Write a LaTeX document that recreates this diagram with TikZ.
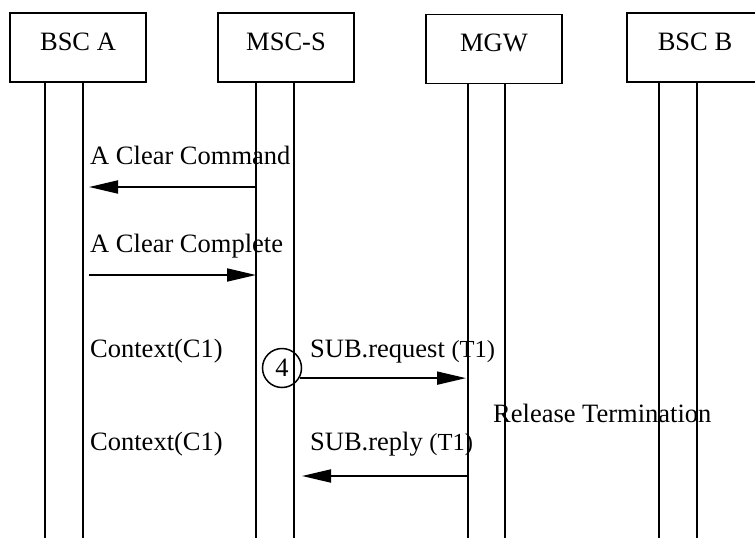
\documentclass[tikz,border=0pt]{standalone}
\usepackage{fontspec}
\setmainfont{Liberation Serif}
\usetikzlibrary{arrows.meta,calc}
\newcommand{\smallt}[1]{{\fontsize{24.5}{28}\selectfont #1}}
\begin{document}
\begin{tikzpicture}[x=1pt,y=-1pt,
  every node/.style={font=\fontsize{26.5}{30}\selectfont},
  ent/.style={draw, line width=1.9pt, minimum width=136pt, minimum height=69pt,
    text height=18pt, text depth=13pt, inner sep=0pt},
  life/.style={line width=1.9pt},
  msg/.style={line width=1.9pt, -{Triangle[length=29pt,width=13pt]}},
  lbl/.style={anchor=base west, inner sep=0pt},
  numc/.style={draw, circle, line width=1.5pt, minimum size=39pt, inner sep=0pt}]
\useasboundingbox (0,0) rectangle (755,538);

% entity boxes
\node[ent] (bsca) at (78,47.5) {BSC A};
\node[ent] (mscs) at (286,47.5) {MSC-S};
\node[ent] (mgw)  at (494,49) {MGW};
\node[ent] (bscb) at (695,47.5) {BSC B};

% lifeline bottoms
\coordinate (a1) at (45,538);
\coordinate (a2) at (83,538);
\coordinate (s1) at (256,538);
\coordinate (s2) at (294,538);
\coordinate (g1) at (468,538);
\coordinate (g2) at (505,538);
\coordinate (b1) at (659,538);
\coordinate (b2) at (697,538);

\foreach \e/\c in {bsca/a1,bsca/a2,mscs/s1,mscs/s2,mgw/g1,mgw/g2,bscb/b1,bscb/b2}
  \draw[life] (\e.south -| \c) -- (\c);

% message rows
\coordinate (r1) at (0,187);
\coordinate (r2) at (0,275);
\coordinate (r4) at (0,476);

% A Clear Command
\node[lbl] (t1) at (90,164) {A Clear Command};
\draw[msg, shorten >=6pt] (r1 -| s1) -- (r1 -| a2);

% A Clear Complete
\node[lbl] (t2) at (90,252) {A Clear Complete};
\draw[msg, shorten <=6pt] (r2 -| a2) -- (r2 -| s1);

% Context / SUB.request
\node[lbl] (t3) at (90,357) {Context(C1)};
\node[lbl] (t4) at (310,357) {SUB.request \smallt{(T1)}};
\node[numc] (c4) at (282,368) {4};
\draw[msg, shorten >=2pt] (c4.-30) -- (c4.-30 -| g1);

% Release Termination
\node[lbl] (t5) at (493,422) {Release Termination};

% Context / SUB.reply
\node[lbl] (t6) at (90,450) {Context(C1)};
\node[lbl] (t7) at (310,450) {SUB.reply \smallt{(T1)}};
\draw[msg, shorten >=8pt] (r4 -| g1) -- (r4 -| s2);
\end{tikzpicture}
\end{document}
